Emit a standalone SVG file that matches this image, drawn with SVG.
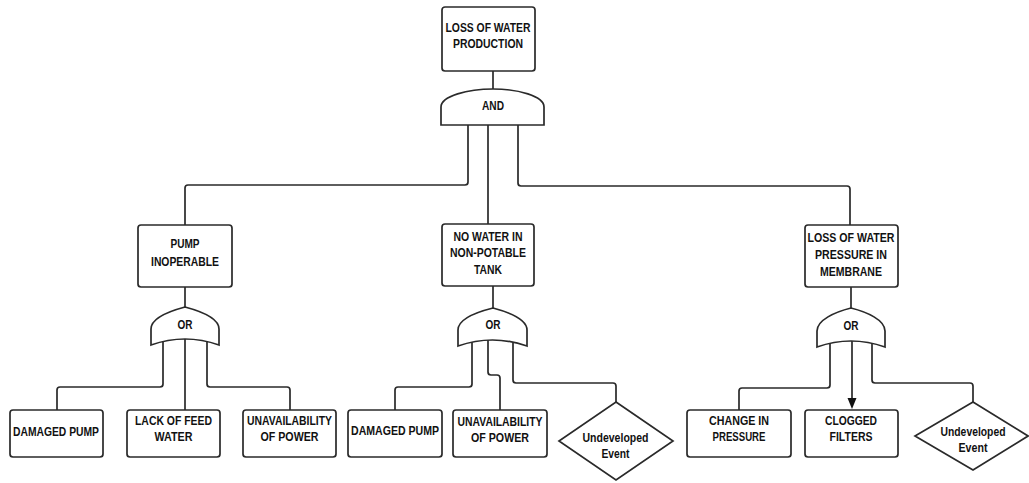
<svg xmlns="http://www.w3.org/2000/svg" width="1029" height="483" viewBox="0 0 1029 483">
<defs>
<style>
.n{fill:#fff;stroke:#2a2a2a;stroke-width:1.7}
.c{fill:none;stroke:#2a2a2a;stroke-width:1.7}
text{font-family:"Liberation Sans",Arial,sans-serif;font-weight:bold;font-size:12.5px;fill:#111;text-anchor:middle}
</style>
</defs>
<rect width="1029" height="483" fill="#fff"/>
<g id="connectors">
<path class="c" d="M493,71 V90"/>
<path class="c" d="M468,120 V182 Q468,185 465,185 H188 Q185,185 185,188 V225"/>
<path class="c" d="M488,120 V224"/>
<path class="c" d="M518,120 V183 Q518,186 521,186 H847 Q850,186 850,189 V225"/>
<path class="c" d="M185,287 V308"/>
<path class="c" d="M163,338 V384 Q163,387 160,387 H60 Q57,387 57,390 V410"/>
<path class="c" d="M185,338 V410"/>
<path class="c" d="M207,338 V384 Q207,387 210,387 H287 Q290,387 290,390 V410"/>
<path class="c" d="M493,286 V309"/>
<path class="c" d="M472,338 V384 Q472,387 469,387 H398 Q395,387 395,390 V410"/>
<path class="c" d="M488,338 V372 Q488,375 491,375 H497 Q500,375 500,378 V410"/>
<path class="c" d="M513,338 V380 Q513,383 516,383 H613 Q616,383 616,386 V402"/>
<path class="c" d="M851,287 V309"/>
<path class="c" d="M830,338 V385 Q830,388 827,388 H742 Q739,388 739,391 V410"/>
<path class="c" d="M852,338 V398"/>
<path d="M847.5,398 L856.5,398 L852,409 Z" fill="#111"/>
<path class="c" d="M872,338 V380 Q872,383 875,383 H970 Q973,383 973,386 V402"/>
</g>
<g id="top">
<rect class="n" x="442" y="7" width="93" height="64" rx="3"/>
<text x="488" y="32" textLength="85" lengthAdjust="spacingAndGlyphs">LOSS OF WATER</text>
<text x="488" y="48" textLength="70" lengthAdjust="spacingAndGlyphs">PRODUCTION</text>
</g>
<g id="and-gate">
<path class="n" d="M441,125 V107 C441,96 468,89 493,89 C518,89 544,96 544,107 V125 Z"/>
<text x="493" y="110" textLength="22" lengthAdjust="spacingAndGlyphs">AND</text>
</g>
<g id="pump-inoperable">
<rect class="n" x="138" y="225" width="94" height="62" rx="3"/>
<text x="185" y="248" textLength="29" lengthAdjust="spacingAndGlyphs">PUMP</text>
<text x="185" y="266" textLength="68" lengthAdjust="spacingAndGlyphs">INOPERABLE</text>
</g>
<g id="or-left">
<path class="n" d="M151,345 V329 C151,318 170,311 185,307 C200,311 219,318 219,329 V345 Q185,333 151,345 Z"/>
<text x="185" y="329" textLength="15" lengthAdjust="spacingAndGlyphs">OR</text>
</g>
<g id="damaged-pump-1">
<rect class="n" x="10" y="410" width="93" height="47" rx="3"/>
<text x="56" y="436" textLength="86" lengthAdjust="spacingAndGlyphs">DAMAGED PUMP</text>
</g>
<g id="lack-feed-water">
<rect class="n" x="127" y="410" width="93" height="47" rx="3"/>
<text x="173.5" y="425" textLength="77" lengthAdjust="spacingAndGlyphs">LACK OF FEED</text>
<text x="173.5" y="441" textLength="38" lengthAdjust="spacingAndGlyphs">WATER</text>
</g>
<g id="unavail-power-1">
<rect class="n" x="243" y="410" width="93" height="47" rx="3"/>
<text x="289.5" y="425" textLength="85" lengthAdjust="spacingAndGlyphs">UNAVAILABILITY</text>
<text x="289.5" y="441" textLength="58" lengthAdjust="spacingAndGlyphs">OF POWER</text>
</g>
<g id="no-water">
<rect class="n" x="442" y="224" width="92" height="62" rx="3"/>
<text x="488" y="241" textLength="69" lengthAdjust="spacingAndGlyphs">NO WATER IN</text>
<text x="488" y="257" textLength="76" lengthAdjust="spacingAndGlyphs">NON-POTABLE</text>
<text x="488" y="274" textLength="28" lengthAdjust="spacingAndGlyphs">TANK</text>
</g>
<g id="or-mid">
<path class="n" d="M458,346 V330 C458,319 477,312 493,308 C508,312 527,319 527,330 V346 Q492.5,334 458,346 Z"/>
<text x="493" y="329" textLength="15" lengthAdjust="spacingAndGlyphs">OR</text>
</g>
<g id="damaged-pump-2">
<rect class="n" x="348" y="410" width="94" height="47" rx="3"/>
<text x="395" y="435" textLength="88" lengthAdjust="spacingAndGlyphs">DAMAGED PUMP</text>
</g>
<g id="unavail-power-2">
<rect class="n" x="453" y="410" width="94" height="47" rx="3"/>
<text x="500" y="426" textLength="85" lengthAdjust="spacingAndGlyphs">UNAVAILABILITY</text>
<text x="500" y="442" textLength="58" lengthAdjust="spacingAndGlyphs">OF POWER</text>
</g>
<g id="undeveloped-1">
<path class="n" d="M616,402 L673,441 L616,480 L559,441 Z"/>
<text x="615.5" y="442" textLength="66" lengthAdjust="spacingAndGlyphs">Undeveloped</text>
<text x="615.5" y="458" textLength="28" lengthAdjust="spacingAndGlyphs">Event</text>
</g>
<g id="loss-pressure">
<rect class="n" x="805" y="225" width="93" height="62" rx="3"/>
<text x="851" y="242" textLength="87" lengthAdjust="spacingAndGlyphs">LOSS OF WATER</text>
<text x="851" y="259" textLength="72" lengthAdjust="spacingAndGlyphs">PRESSURE IN</text>
<text x="851" y="276" textLength="62" lengthAdjust="spacingAndGlyphs">MEMBRANE</text>
</g>
<g id="or-right">
<path class="n" d="M817,347 V331 C817,320 835,312 851,308 C867,312 885,320 885,331 V347 Q851,335 817,347 Z"/>
<text x="851" y="330" textLength="15" lengthAdjust="spacingAndGlyphs">OR</text>
</g>
<g id="change-pressure">
<rect class="n" x="687" y="410" width="104" height="47" rx="3"/>
<text x="739" y="425" textLength="60" lengthAdjust="spacingAndGlyphs">CHANGE IN</text>
<text x="739" y="441" textLength="53" lengthAdjust="spacingAndGlyphs">PRESSURE</text>
</g>
<g id="clogged-filters">
<rect class="n" x="805" y="410" width="93" height="47" rx="3"/>
<text x="851" y="425" textLength="52" lengthAdjust="spacingAndGlyphs">CLOGGED</text>
<text x="851" y="441" textLength="43" lengthAdjust="spacingAndGlyphs">FILTERS</text>
</g>
<g id="undeveloped-2">
<path class="n" d="M973,402 L1028,436 L973,470 L915,436 Z"/>
<text x="973" y="436" textLength="65" lengthAdjust="spacingAndGlyphs">Undeveloped</text>
<text x="973" y="452" textLength="29" lengthAdjust="spacingAndGlyphs">Event</text>
</g>
</svg>
